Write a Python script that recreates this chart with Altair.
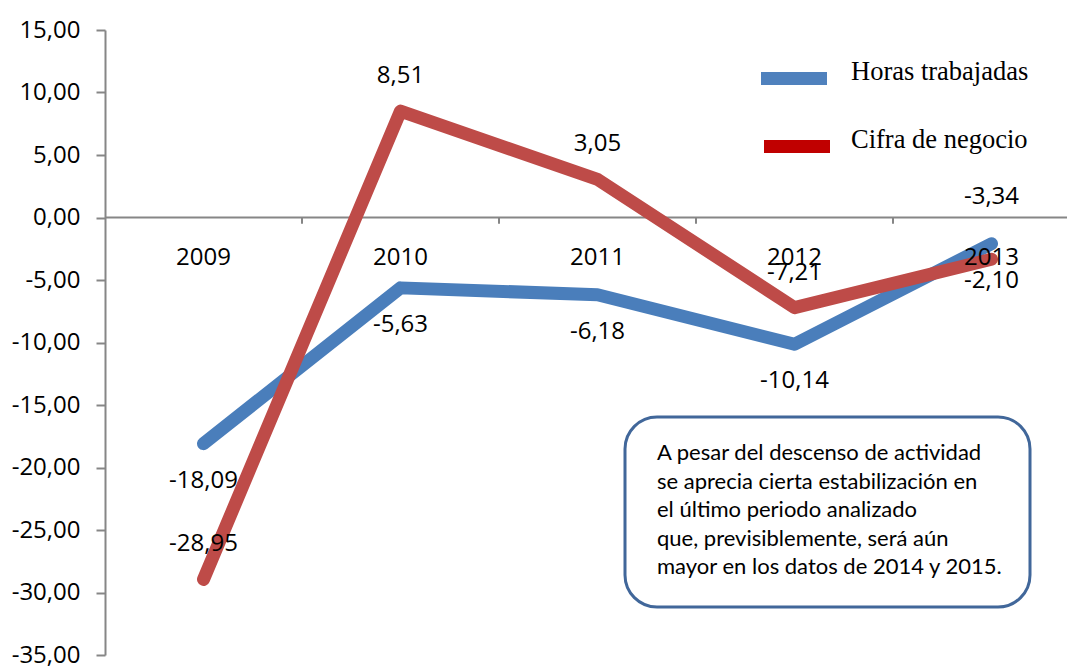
import altair as alt
import pandas as pd

# ---- data ----
years = [2009, 2010, 2011, 2012, 2013]
horas = [-18.09, -5.63, -6.18, -10.14, -2.10]
cifra = [-28.95, 8.51, 3.05, -7.21, -3.34]
series_names = ["Horas trabajadas", "Cifra de negocio"]
line_colors = ["#4A7EBB", "#BE4B48"]
legend_colors = ["#4F81BD", "#C00000"]
y_ticks = [15, 10, 5, 0, -5, -10, -15, -20, -25, -30, -35]
band_edges = [2009.5, 2010.5, 2011.5, 2012.5]
note_lines = [
    "A pesar del descenso de actividad",
    "se aprecia cierta estabilización en",
    "el último periodo analizado",
    "que, previsiblemente, será aún",
    "mayor en los datos de 2014 y 2015.",
]

# ---- layout ----
W, H = 962, 625
PX_PER_YEAR = 197
x_domain = [2008.5, 2008.5 + W / PX_PER_YEAR]
AX_FONT = "Open Sans"
AX_SIZE = 24
GREY = "#868686"

rows = []
for i, yr in enumerate(years):
    rows.append({"year": yr, "series": series_names[0], "value": horas[i]})
    rows.append({"year": yr, "series": series_names[1], "value": cifra[i]})
df = pd.DataFrame(rows)

xs = alt.Scale(domain=x_domain, nice=False, zero=False)
ys = alt.Scale(domain=[-35, 15], nice=False, zero=False)
fmt = "replace(replace(format(datum.value, '.2f'), '.', ','), '\u2212', '-')"

y_axis = alt.Axis(
    values=y_ticks,
    labelExpr=fmt,
    grid=False,
    domainColor=GREY,
    domainWidth=2,
    tickColor=GREY,
    tickWidth=2,
    tickSize=9,
    labelFont=AX_FONT,
    labelFontSize=AX_SIZE,
    labelColor="black",
    labelPadding=16,
    title=None,
)

base = alt.Chart(df)

lines = base.mark_line(strokeWidth=13, strokeCap="round", strokeJoin="round").encode(
    x=alt.X("year:Q", scale=xs, axis=None),
    y=alt.Y("value:Q", scale=ys, axis=y_axis),
    color=alt.Color(
        "series:N",
        scale=alt.Scale(domain=series_names, range=line_colors),
        legend=None,
    ),
    order=alt.Order("year:Q"),
)

zero_rule = alt.Chart(pd.DataFrame({"value": [0]})).mark_rule(
    color=GREY, strokeWidth=2
).encode(y=alt.Y("value:Q", scale=ys, axis=y_axis))

edge_ticks = alt.Chart(pd.DataFrame({"e": band_edges})).transform_calculate(
    value="0", value2="-0.5"
).mark_rule(color=GREY, strokeWidth=2).encode(
    x=alt.X("e:Q", scale=xs, axis=None),
    y=alt.Y("value:Q", scale=ys, axis=y_axis),
    y2="value2:Q",
)

year_labels = alt.Chart(pd.DataFrame({"year": years})).transform_calculate(
    lab="'' + datum.year", value="0"
).mark_text(
    font=AX_FONT, fontSize=AX_SIZE, color="black", dy=40, baseline="middle"
).encode(
    x=alt.X("year:Q", scale=xs, axis=None),
    y=alt.Y("value:Q", scale=ys, axis=y_axis),
    text="lab:N",
)

lab_base = base.transform_calculate(lab=fmt)
txt_enc = dict(
    x=alt.X("year:Q", scale=xs, axis=None),
    y=alt.Y("value:Q", scale=ys, axis=y_axis),
    text="lab:N",
)
blue_labels = lab_base.transform_filter(
    alt.datum.series == series_names[0]
).mark_text(font=AX_FONT, fontSize=AX_SIZE, color="black", dy=37, baseline="middle").encode(**txt_enc)
red_labels = lab_base.transform_filter(
    (alt.datum.series == series_names[1]) & (alt.datum.year != 2013)
).mark_text(font=AX_FONT, fontSize=AX_SIZE, color="black", dy=-35, baseline="middle").encode(**txt_enc)
red_last = lab_base.transform_filter(
    (alt.datum.series == series_names[1]) & (alt.datum.year == 2013)
).mark_text(font=AX_FONT, fontSize=AX_SIZE, color="black", dy=-62, baseline="middle").encode(**txt_enc)

# ---- legend (manual) ----
one = pd.DataFrame({"k": [0]})
leg = []
leg_y = [42, 110]
leg_x = [656, 659]
for i, name in enumerate(series_names):
    leg.append(
        alt.Chart(one).mark_rect(color=legend_colors[i]).encode(
            x=alt.value(leg_x[i]), x2=alt.value(leg_x[i] + 66),
            y=alt.value(leg_y[i]), y2=alt.value(leg_y[i] + 13),
        )
    )
    leg.append(
        alt.Chart(one).mark_text(
            text=name, font="Liberation Serif", fontSize=26.5, color="black",
            align="left", baseline="alphabetic",
        ).encode(x=alt.value(746), y=alt.value(leg_y[i] + 8))
    )

# ---- annotation box ----
note = [
    alt.Chart(one).mark_rect(
        fill="white", stroke="#41679A", strokeWidth=3, cornerRadius=32
    ).encode(x=alt.value(520), x2=alt.value(925), y=alt.value(387), y2=alt.value(577))
]
for i, line in enumerate(note_lines):
    note.append(
        alt.Chart(one).mark_text(
            text=line, font="Lato", fontSize=22, color="black",
            align="left", baseline="middle",
        ).encode(x=alt.value(552), y=alt.value(423 + i * 28.5))
    )

chart = alt.layer(
    zero_rule, edge_ticks, lines, year_labels, blue_labels, red_labels, red_last,
    *leg, *note
).properties(
    width=W, height=H,
    background="white",
    autosize=alt.AutoSizeParams(type="none"),
    padding={"left": 97, "top": 22, "right": 0, "bottom": 11},
).configure_view(stroke=None)

chart.save("out.html", embed_options={"renderer": "svg", "actions": False})
